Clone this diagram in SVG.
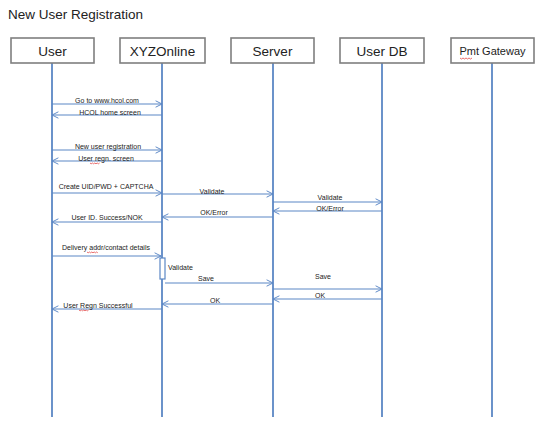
<svg xmlns="http://www.w3.org/2000/svg" width="560" height="436" viewBox="0 0 560 436">
<style>
.box{fill:#fff;stroke:#7f7f7f;stroke-width:1.6}
.hdr{font-family:"Liberation Sans","Noto Sans",sans-serif;font-size:13.5px;fill:#222;text-anchor:middle}
.life{stroke:#5b87c5;stroke-width:1.8}
.msg{stroke:#5b87c5;stroke-width:1;fill:none}
.lbl{font-family:"Liberation Sans","Noto Sans",sans-serif;font-size:7px;fill:#222;text-anchor:middle}
.sq{stroke:#e03030;stroke-width:0.7;fill:none}
</style>
<defs>
<marker id="ah" viewBox="0 0 10 10" refX="9" refY="5" markerWidth="8" markerHeight="8" orient="auto-start-reverse" markerUnits="userSpaceOnUse">
<path d="M1,1 L9,5 L1,9" fill="none" stroke="#5b87c5" stroke-width="1.2"/>
</marker>
</defs>
<rect width="560" height="436" fill="#fff"/>
<text x="8" y="19" font-family="Liberation Sans,Noto Sans,sans-serif" font-size="13.5" fill="#222">New User Registration</text>

<g id="lifelines">
<line class="life" x1="52" y1="62" x2="52" y2="417"/>
<line class="life" x1="162" y1="62" x2="162" y2="417"/>
<line class="life" x1="273" y1="62" x2="273" y2="417"/>
<line class="life" x1="382" y1="62" x2="382" y2="417"/>
<line class="life" x1="492" y1="62" x2="492" y2="417"/>
</g>

<g id="user"><rect class="box" x="11" y="38" width="83" height="25"/><text class="hdr" x="52.5" y="55.5">User</text></g>
<g id="xyzonline"><rect class="box" x="120" y="38" width="85" height="25"/><text class="hdr" x="162.5" y="55.5">XYZOnline</text></g>
<g id="server"><rect class="box" x="231" y="38" width="83" height="25"/><text class="hdr" x="272.5" y="55.5">Server</text></g>
<g id="userdb"><rect class="box" x="340" y="38" width="84" height="25"/><text class="hdr" x="382" y="55.5">User DB</text></g>
<g id="pmtgateway"><rect class="box" x="451" y="38" width="83" height="25"/><text class="hdr" x="492.5" y="54.5" style="font-size:11px">Pmt Gateway</text>
<path class="sq" d="M460,58 l1.5,1 l1.5,-1 l1.5,1 l1.5,-1 l1.5,1 l1.5,-1 l1.5,1 l1.5,-1"/></g>

<g id="activation"><rect x="160" y="258" width="5" height="21" fill="#fff" stroke="#5b87c5" stroke-width="1.2"/></g>

<g id="connectors">
<line class="msg" x1="52" y1="104" x2="162" y2="104" marker-end="url(#ah)"/>
<line class="msg" x1="162" y1="115" x2="52" y2="115" marker-end="url(#ah)"/>
<line class="msg" x1="52" y1="150" x2="162" y2="150" marker-end="url(#ah)"/>
<line class="msg" x1="162" y1="161" x2="52" y2="161" marker-end="url(#ah)"/>
<line class="msg" x1="52" y1="193" x2="162" y2="193" marker-end="url(#ah)"/>
<line class="msg" x1="162" y1="194" x2="273" y2="194" marker-end="url(#ah)"/>
<line class="msg" x1="273" y1="202" x2="382" y2="202" marker-end="url(#ah)"/>
<line class="msg" x1="382" y1="211" x2="273" y2="211" marker-end="url(#ah)"/>
<line class="msg" x1="273" y1="217" x2="162" y2="217" marker-end="url(#ah)"/>
<line class="msg" x1="162" y1="222" x2="52" y2="222" marker-end="url(#ah)"/>
<line class="msg" x1="52" y1="256" x2="161" y2="256" marker-end="url(#ah)"/>
<line class="msg" x1="165" y1="283" x2="273" y2="283" marker-end="url(#ah)"/>
<line class="msg" x1="273" y1="289" x2="382" y2="289" marker-end="url(#ah)"/>
<line class="msg" x1="382" y1="299" x2="273" y2="299" marker-end="url(#ah)"/>
<line class="msg" x1="273" y1="304" x2="162" y2="304" marker-end="url(#ah)"/>
<line class="msg" x1="162" y1="309" x2="52" y2="309" marker-end="url(#ah)"/>
</g>

<g id="labels">
<text class="lbl" x="107" y="103">Go to www.hcol.com</text>
<text class="lbl" x="110" y="115">HCOL home screen</text>
<text class="lbl" x="108" y="149">New user registration</text>
<text class="lbl" x="106" y="161">User regn. screen</text>
<path class="sq" d="M90,163 l1.2,0.8 l1.2,-0.8 l1.2,0.8 l1.2,-0.8 l1.2,0.8 l1.2,-0.8 l1.2,0.8 l1.2,-0.8"/>
<text class="lbl" x="106" y="189">Create UID/PWD + CAPTCHA</text>
<text class="lbl" x="212" y="194">Validate</text>
<text class="lbl" x="330" y="200">Validate</text>
<text class="lbl" x="330" y="211">OK/Error</text>
<text class="lbl" x="214" y="215">OK/Error</text>
<text class="lbl" x="107" y="220">User ID. Success/NOK</text>
<text class="lbl" x="106" y="250">Delivery addr/contact details</text>
<path class="sq" d="M87,252 l1.2,0.8 l1.2,-0.8 l1.2,0.8 l1.2,-0.8 l1.2,0.8 l1.2,-0.8 l1.2,0.8 l1.2,-0.8 l1.2,0.8"/>
<text class="lbl" x="168" y="270" style="text-anchor:start">Validate</text>
<text class="lbl" x="206" y="281">Save</text>
<text class="lbl" x="323" y="279">Save</text>
<text class="lbl" x="320" y="298">OK</text>
<text class="lbl" x="215" y="303">OK</text>
<text class="lbl" x="98" y="308">User Regn Successful</text>
<path class="sq" d="M79,310 l1.2,0.8 l1.2,-0.8 l1.2,0.8 l1.2,-0.8 l1.2,0.8 l1.2,-0.8 l1.2,0.8 l1.2,-0.8"/>
</g>
</svg>
